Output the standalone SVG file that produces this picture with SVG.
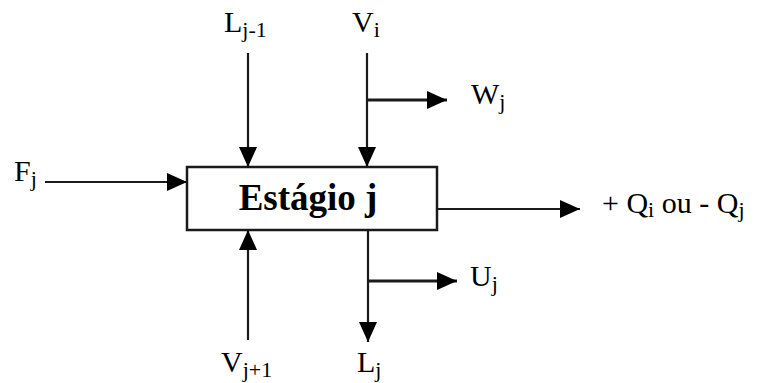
<svg xmlns="http://www.w3.org/2000/svg" width="762" height="383" viewBox="0 0 762 383">
<defs>
<style>
.lbl{font-family:"Liberation Serif","Times New Roman",serif;font-size:30px;fill:#000}
.sub{font-size:22px}
.ttl{font-family:"Liberation Serif","Times New Roman",serif;font-size:37px;font-weight:bold;fill:#000}
.ln{stroke:#1a1a1a;stroke-width:2.2;fill:none}
.br{stroke-width:3}
</style>
<marker id="ah" markerUnits="userSpaceOnUse" markerWidth="20" markerHeight="18" refX="20" refY="9" orient="auto">
<path d="M0,0 L20,9 L0,18 Z" fill="#000"/>
</marker>
</defs>
<rect width="762" height="383" fill="#fff"/>
<g id="stage">
<rect x="187" y="167" width="250" height="63" fill="#fff" stroke="#1a1a1a" stroke-width="2.5"/>
<text class="ttl" x="308" y="210" text-anchor="middle">Estágio j</text>
</g>
<g id="connectors">
<line class="ln" x1="45" y1="182" x2="187" y2="182" marker-end="url(#ah)"/>
<line class="ln" x1="248" y1="53" x2="248" y2="167" marker-end="url(#ah)"/>
<line class="ln" x1="367" y1="53" x2="367" y2="167" marker-end="url(#ah)"/>
<line class="ln br" x1="367" y1="100" x2="447" y2="100" marker-end="url(#ah)"/>
<line class="ln" x1="437" y1="209" x2="580" y2="209" marker-end="url(#ah)"/>
<line class="ln" x1="248" y1="340" x2="248" y2="230" marker-end="url(#ah)"/>
<line class="ln" x1="368" y1="230" x2="368" y2="342" marker-end="url(#ah)"/>
<line class="ln br" x1="368" y1="281" x2="457" y2="281" marker-end="url(#ah)"/>
</g>
<g id="Fj"><text class="lbl" x="14" y="181">F<tspan class="sub" dy="5">j</tspan></text></g>
<g id="Lj-1"><text class="lbl" x="224" y="32">L<tspan class="sub" dy="5">j-1</tspan></text></g>
<g id="Vi"><text class="lbl" x="352" y="32">V<tspan class="sub" dy="5">i</tspan></text></g>
<g id="Wj"><text class="lbl" x="471" y="104">W<tspan class="sub" dy="5">j</tspan></text></g>
<g id="Q"><text class="lbl" x="602" y="213">+ Q<tspan class="sub" dy="4">i</tspan><tspan dy="-4"> ou - Q</tspan><tspan class="sub" dy="4">j</tspan></text></g>
<g id="Uj"><text class="lbl" x="470" y="286">U<tspan class="sub" dy="5">j</tspan></text></g>
<g id="Vj+1"><text class="lbl" x="221" y="372">V<tspan class="sub" dy="5">j+1</tspan></text></g>
<g id="Lj"><text class="lbl" x="357" y="372">L<tspan class="sub" dy="5">j</tspan></text></g>
</svg>
